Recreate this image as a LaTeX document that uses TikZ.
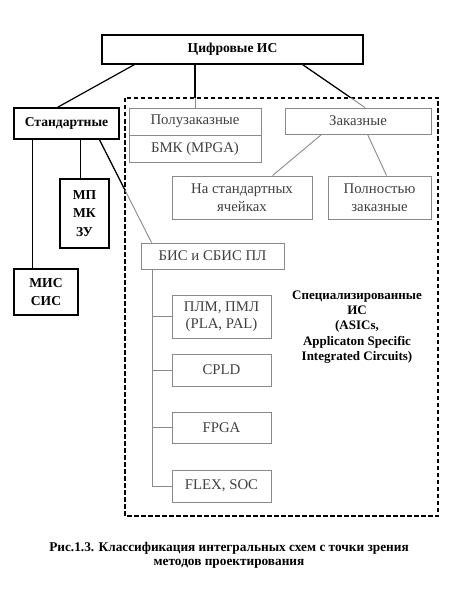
\documentclass[tikz,border=0pt]{standalone}
\usepackage{fontspec}
\setmainfont{Liberation Serif}
\usetikzlibrary{calc}
\definecolor{lgray}{HTML}{8A8A8A}
\definecolor{tgray}{HTML}{404040}
\tikzset{
  bbox/.style={draw=black, line width=1.2pt, fill=white, font=\fontsize{13.6}{18.5}\selectfont\bfseries, align=center, inner sep=0pt},
  gbox/.style={draw=lgray, line width=0.9pt, fill=white, text=tgray, font=\fontsize{14.8}{17.5}\selectfont, align=center, inner sep=0pt},
  bline/.style={draw=black, line width=1.2pt},
  gline/.style={draw=lgray, line width=0.9pt},
  frame/.style={draw=black, line width=1.3pt, dash pattern=on 4.5pt off 2.5pt},
}
\begin{document}
\begin{tikzpicture}[x=1pt,y=-1pt]
\useasboundingbox (0,0) rectangle (451,599);
% dashed region
\draw[frame] (125,98) rectangle (438,516);
% black boxes
\node[bbox, minimum width=261pt, minimum height=29pt] (top) at (232.5,49.5) {Цифровые ИС};
\node[bbox, minimum width=105pt, minimum height=31pt] (std) at (66.5,123.5) {Стандартные};
\node[bbox, minimum width=64pt, minimum height=46pt] (mis) at (46,292) {МИС\\СИС};
\node[bbox, minimum width=49pt, minimum height=69pt] (mp) at (84.5,213.5) {МП\\МК\\ЗУ};
% gray boxes
\node[gbox, minimum width=132pt, minimum height=27pt] (polu) at (195,121.5) {Полузаказные};
\node[gbox, minimum width=132pt, minimum height=27pt] (bmk) at (195,148.5) {БМК (MPGA)};
\node[gbox, minimum width=146pt, minimum height=26pt] (zak) at (358,121) {Заказные};
\node[gbox, minimum width=140pt, minimum height=43pt] (nastd) at (242,197.5) {На стандартных\\ячейках};
\node[gbox, minimum width=103pt, minimum height=43pt] (poln) at (379.5,197.5) {Полностью\\заказные};
\node[gbox, minimum width=143pt, minimum height=26pt] (bis) at (212.5,256) {БИС и СБИС ПЛ};
\node[gbox, minimum width=99pt, minimum height=43pt] (plm) at (221.5,316.5) {ПЛМ, ПМЛ\\(PLA, PAL)};
\node[gbox, minimum width=99pt, minimum height=32pt] (cpld) at (221.5,370) {CPLD};
\node[gbox, minimum width=99pt, minimum height=31pt] (fpga) at (221.5,427.5) {FPGA};
\node[gbox, minimum width=99pt, minimum height=32pt] (flex) at (221.5,486) {FLEX, SOC};
% specialized label
\node[font=\fontsize{13}{15.2}\selectfont\bfseries, align=center] (spec) at (357,327) {Специализированные\\ИС\\(ASICs,\\Applicaton Specific\\Integrated Circuits)};
% caption
\node[font=\fontsize{13.3}{14}\selectfont\bfseries, align=center] (cap) at (229,555) {Рис.1.3. Классификация интегральных схем с точки зрения\\методов проектирования};
% connectors from top
\coordinate (a1) at ($(top.south west)+(33,0)$);
\coordinate (a2) at ($(std.north west)+(44,0)$);
\draw[bline] (a1) -- (a2);
\coordinate (m1) at (polu.north |- top.south);
\draw[gline] (m1) -- (polu.north);
\draw[bline] (m1) -- ($(m1)!0.77!(polu.north)$);
\coordinate (r1) at ($(top.south east)+(-61,0)$);
\coordinate (r2) at ($(zak.north)+(7,0)$);
\draw[gline] (r1) -- (r2);
\draw[bline] (r1) -- ($(r1)!0.77!(r2)$);
% from standard
\draw[bline] ($(std.south west)+(19,0)$) -- ($(mis.north west)+(19,0)$);
\draw[bline] ($(std.south west)+(67,0)$) -- ($(mp.north west)+(21,0)$);
\coordinate (s1) at ($(std.south west)+(86,0)$);
\coordinate (s2) at ($(bis.north west)+(11,0)$);
\draw[gline] (s1) -- (s2);
\draw[bline] (s1) -- ($(s1)!0.49!(s2)$);
% from zakaznye
\draw[gline] ($(zak.south west)+(37,0)$) -- ($(nastd.north west)+(101,0)$);
\draw[gline] ($(zak.south west)+(83,0)$) -- ($(poln.north west)+(59,0)$);
% trunk
\coordinate (t) at ($(bis.south west)+(12,0)$);
\draw[gline] (t) |- (flex.west);
\draw[gline] (plm.west) -- (plm.west -| t);
\draw[gline] (cpld.west) -- (cpld.west -| t);
\draw[gline] (fpga.west) -- (fpga.west -| t);
\end{tikzpicture}
\end{document}
